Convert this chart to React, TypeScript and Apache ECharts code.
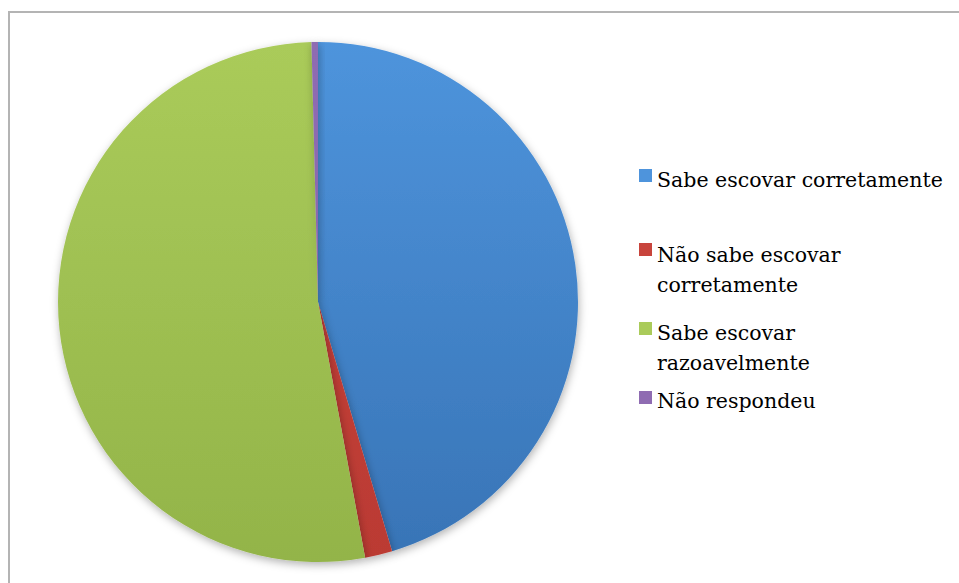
import React, { useEffect, useRef } from "react";
import * as echarts from "echarts";

const categories = [
  "Sabe escovar corretamente",
  "Não sabe escovar corretamente",
  "Sabe escovar razoavelmente",
  "Não respondeu",
];
const legendLines = [
  ["Sabe escovar corretamente"],
  ["Não sabe escovar", "corretamente"],
  ["Sabe escovar", "razoavelmente"],
  ["Não respondeu"],
];
const values = [45.4, 1.7, 52.5, 0.4];

const topColors = ["#4e94dc", "#c8443c", "#aacb5a", "#8f6cb2"];
const bottomColors = ["#3874b6", "#bb3a33", "#93b449", "#8563a8"];
const legendTops = [160, 219, 298, 382];
const legendLead = [8, 41, 38, 7];

export default function App() {
  const ref = useRef<HTMLDivElement>(null);
  useEffect(() => {
    document.body.style.margin = "0";
    if (!ref.current) return;
    const chart = echarts.init(ref.current, null, { renderer: "svg" });
    const font = "DejaVu Serif";
    const grad = (i: number) =>
      new echarts.graphic.LinearGradient(
        0,
        42,
        0,
        562,
        [
          { offset: 0, color: topColors[i] },
          { offset: 1, color: bottomColors[i] },
        ],
        true
      );
    chart.setOption({
      animation: false,
      backgroundColor: "#ffffff",
      textStyle: { fontFamily: font },
      legend: categories.map((c, i) => ({
        data: [c],
        left: 639,
        top: legendTops[i],
        padding: 0,
        orient: "vertical",
        icon: "rect",
        itemWidth: 13,
        itemHeight: 13,
        selectedMode: false,
        formatter: () =>
          "{e| }\n" + legendLines[i].map((l) => `{t|${l}}`).join("\n"),
        textStyle: {
          fontFamily: font,
          fontSize: 20.5,
          color: "#000",
          rich: {
            e: { fontSize: 1, lineHeight: legendLead[i] },
            t: {
              fontFamily: font,
              fontSize: 20.5,
              lineHeight: 30,
              color: "#000",
            },
          },
        },
      })),
      graphic: [
        {
          type: "rect",
          shape: { x: 9, y: 12, width: 1100, height: 1100 },
          style: { fill: "none", stroke: "#b4b4b4", lineWidth: 2 },
          silent: true,
          z: -1,
        },
      ],
      series: [
        {
          type: "pie",
          center: [318, 302],
          radius: [0, 260],
          startAngle: 90,
          clockwise: true,
          label: { show: false },
          labelLine: { show: false },
          emphasis: { disabled: true },
          data: categories.map((c, i) => ({
            name: c,
            value: values[i],
            itemStyle: {
              color: grad(i),
              borderWidth: 0,
              shadowBlur: 8,
              shadowOffsetY: 3,
              shadowOffsetX: 1,
              shadowColor: "rgba(0,0,0,0.3)",
            },
          })),
        },
      ],
    });
    return () => chart.dispose();
  }, []);
  return <div ref={ref} style={{ width: 959, height: 583 }} />;
}
